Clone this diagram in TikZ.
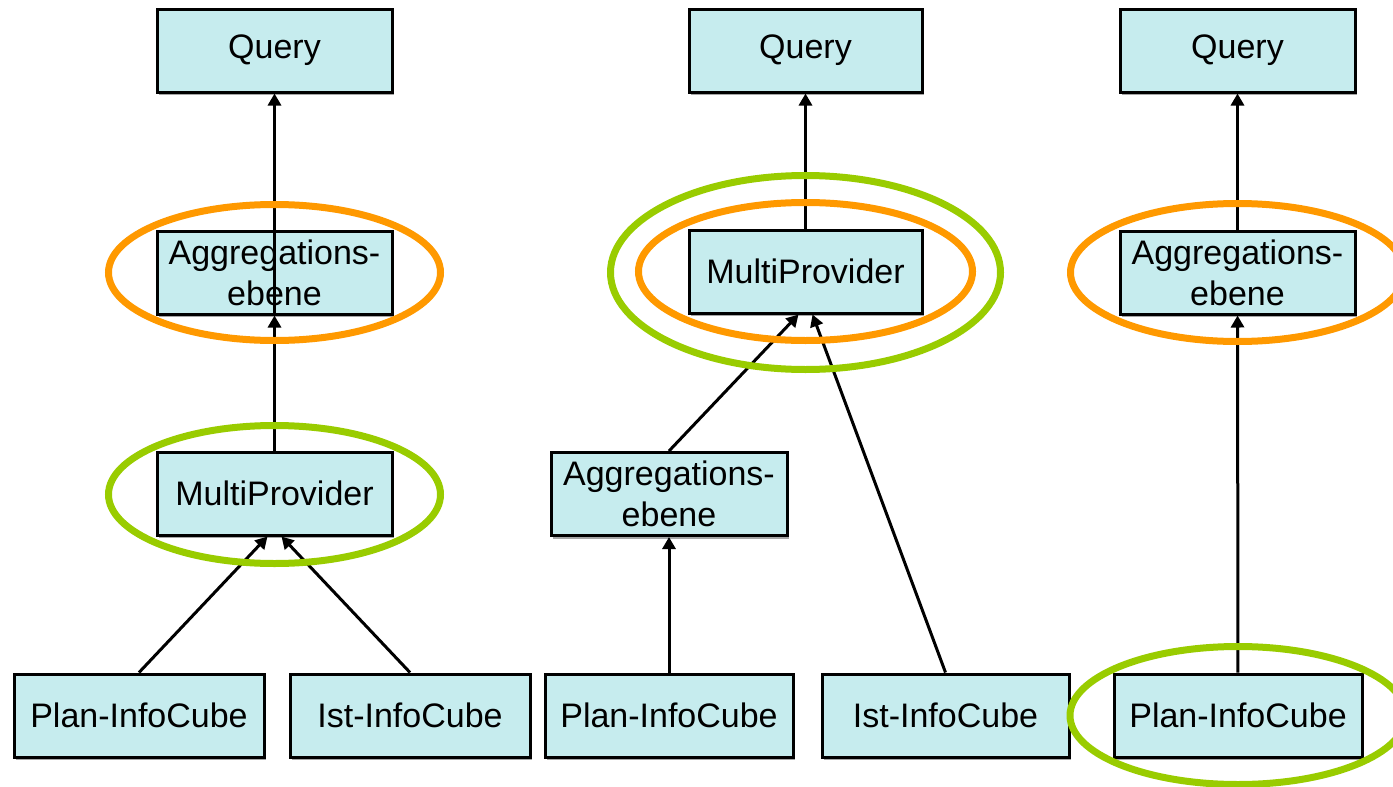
\documentclass[tikz,border=0pt]{standalone}
\usepackage{fontspec}
\setmainfont{Liberation Sans}
\usetikzlibrary{arrows.meta,shadows}
\definecolor{cubefill}{RGB}{198,236,238}
\definecolor{ringorange}{RGB}{255,153,0}
\definecolor{ringgreen}{RGB}{153,204,0}

\begin{document}
\begin{tikzpicture}[x=1pt, y=-1pt, font=\fontsize{34}{41}\selectfont,
	cube/.style={draw, line width=3pt, fill=cubefill, inner sep=0pt, align=center, minimum height=83pt,
		drop shadow={shadow xshift=2pt, shadow yshift=-3pt, fill=gray!70, opacity=1}},
	arr/.style={line width=3pt, -{Triangle[length=12pt,width=13pt]}},
	ring/.style={line width=7pt}]
	\useasboundingbox (0,0) rectangle (1393,787);
	\node[cube, minimum width=235pt] (q1) at (274.5,50.5) {Query};
	\node[cube, minimum width=235pt] (agg1) at (274.5,272.5) {Aggregations-\\ebene};
	\node[cube, minimum width=235pt] (mp1) at (274.5,493.5) {MultiProvider};
	\node[cube, minimum width=250pt] (plan1) at (139,715.5) {Plan-InfoCube};
	\node[cube, minimum width=240pt] (ist1) at (410,715.5) {Ist-InfoCube};
	\node[cube, minimum width=233pt] (q2) at (805.5,50.5) {Query};
	\node[cube, minimum width=233pt] (mp2) at (805.5,271.5) {MultiProvider};
	\node[cube, minimum width=236pt] (agg2) at (669,494) {Aggregations-\\ebene};
	\node[cube, minimum width=248pt] (plan2) at (669,715.5) {Plan-InfoCube};
	\node[cube, minimum width=247pt] (ist2) at (945.5,715.5) {Ist-InfoCube};
	\node[cube, minimum width=235pt] (q3) at (1237.5,50.5) {Query};
	\node[cube, minimum width=235pt] (agg3) at (1237.5,272.5) {Aggregations-\\ebene};
	\node[cube, minimum width=248pt] (plan3) at (1238,715.5) {Plan-InfoCube};
	\draw[arr] (plan1.north) -- ([xshift=-7pt]mp1.south);
	\draw[arr] (ist1.north) -- ([xshift=7pt]mp1.south);
	\draw[arr] (mp1) -- (agg1);
	\draw[arr] (agg1.south) -- (q1);
	\draw[arr] (plan2) -- (agg2);
	\draw[arr] (agg2.north) -- ([xshift=-7pt]mp2.south);
	\draw[arr] (ist2.north) -- ([xshift=7pt]mp2.south);
	\draw[arr] (mp2) -- (q2);
	\draw[arr] (plan3) -- (agg3);
	\draw[arr] (agg3) -- (q3);
	\draw[ring, ringorange] (agg1) ellipse (166 and 68);
	\draw[ring, ringgreen] ([yshift=-1pt]mp1.center) ellipse (166 and 69);
	\draw[ring, ringgreen] ([yshift=-1pt]mp2.center) ellipse (195 and 97);
	\draw[ring, ringorange] (mp2) ellipse (167 and 69);
	\draw[ring, ringorange] (agg3) ellipse (167 and 69);
	\draw[ring, ringgreen] (plan3) ellipse (168 and 69);
\end{tikzpicture}
\end{document}
